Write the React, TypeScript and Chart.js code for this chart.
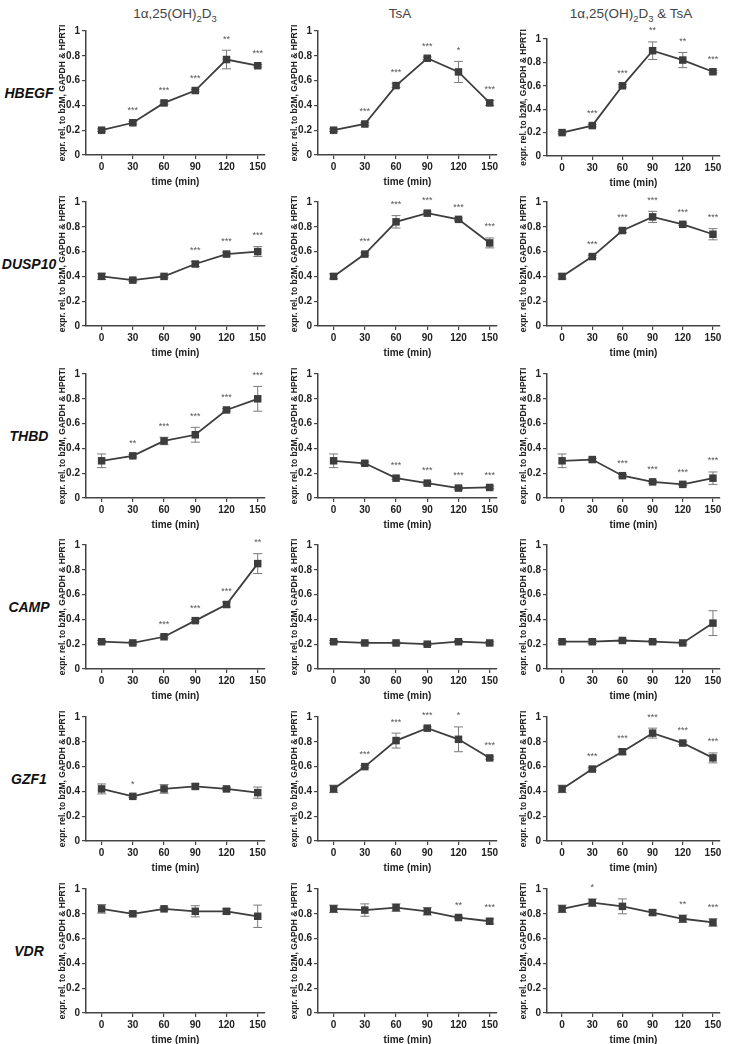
import React, { useEffect, useRef } from 'react';
import { Chart, registerables } from 'chart.js';
Chart.register(...registerables);

const TIMES = [0, 30, 60, 90, 120, 150];
const Y_TICKS = [0, 0.2, 0.4, 0.6, 0.8, 1];
const Y_TICK_LABELS = ['0', '0.2', '0.4', '0.6', '0.8', '1'];
const GENES = ['HBEGF', 'DUSP10', 'THBD', 'CAMP', 'GZF1', 'VDR'];
const Y_TITLE = 'expr. rel. to b2M, GAPDH & HPRTI';
const X_TITLE = 'time (min)';

// HBEGF
const HBEGF_D3 = [0.20, 0.26, 0.42, 0.52, 0.77, 0.72];
const HBEGF_D3_SD = [0.01, 0.01, 0.01, 0.01, 0.075, 0.01];
const HBEGF_D3_SIG = ['', '***', '***', '***', '**', '***'];
const HBEGF_TSA = [0.20, 0.25, 0.56, 0.78, 0.67, 0.42];
const HBEGF_TSA_SD = [0.01, 0.01, 0.015, 0.01, 0.085, 0.02];
const HBEGF_TSA_SIG = ['', '***', '***', '***', '*', '***'];
const HBEGF_BOTH = [0.20, 0.26, 0.60, 0.90, 0.82, 0.72];
const HBEGF_BOTH_SD = [0.01, 0.01, 0.01, 0.075, 0.065, 0.01];
const HBEGF_BOTH_SIG = ['', '***', '***', '**', '**', '***'];

// DUSP10
const DUSP10_D3 = [0.40, 0.37, 0.40, 0.50, 0.58, 0.60];
const DUSP10_D3_SD = [0.025, 0.01, 0.01, 0.02, 0.015, 0.04];
const DUSP10_D3_SIG = ['', '', '', '***', '***', '***'];
const DUSP10_TSA = [0.40, 0.58, 0.84, 0.91, 0.86, 0.67];
const DUSP10_TSA_SD = [0.02, 0.01, 0.05, 0.01, 0.01, 0.04];
const DUSP10_TSA_SIG = ['', '***', '***', '***', '***', '***'];
const DUSP10_BOTH = [0.40, 0.56, 0.77, 0.88, 0.82, 0.74];
const DUSP10_BOTH_SD = [0.02, 0.01, 0.015, 0.045, 0.01, 0.045];
const DUSP10_BOTH_SIG = ['', '***', '***', '***', '***', '***'];

// THBD
const THBD_D3 = [0.30, 0.34, 0.46, 0.51, 0.71, 0.80];
const THBD_D3_SD = [0.055, 0.01, 0.03, 0.06, 0.01, 0.10];
const THBD_D3_SIG = ['', '**', '***', '***', '***', '***'];
const THBD_TSA = [0.30, 0.28, 0.16, 0.12, 0.08, 0.085];
const THBD_TSA_SD = [0.055, 0.01, 0.01, 0.01, 0.01, 0.01];
const THBD_TSA_SIG = ['', '', '***', '***', '***', '***'];
const THBD_BOTH = [0.30, 0.31, 0.18, 0.13, 0.11, 0.16];
const THBD_BOTH_SD = [0.055, 0.01, 0.01, 0.01, 0.01, 0.05];
const THBD_BOTH_SIG = ['', '', '***', '***', '***', '***'];

// CAMP
const CAMP_D3 = [0.22, 0.21, 0.26, 0.39, 0.52, 0.85];
const CAMP_D3_SD = [0.01, 0.01, 0.01, 0.01, 0.02, 0.08];
const CAMP_D3_SIG = ['', '', '***', '***', '***', '**'];
const CAMP_TSA = [0.22, 0.21, 0.21, 0.20, 0.22, 0.21];
const CAMP_TSA_SD = [0.01, 0.01, 0.01, 0.01, 0.01, 0.01];
const CAMP_TSA_SIG = ['', '', '', '', '', ''];
const CAMP_BOTH = [0.22, 0.22, 0.23, 0.22, 0.21, 0.37];
const CAMP_BOTH_SD = [0.01, 0.015, 0.01, 0.01, 0.01, 0.10];
const CAMP_BOTH_SIG = ['', '', '', '', '', ''];

// GZF1
const GZF1_D3 = [0.42, 0.36, 0.42, 0.44, 0.42, 0.39];
const GZF1_D3_SD = [0.04, 0.01, 0.035, 0.02, 0.01, 0.045];
const GZF1_D3_SIG = ['', '*', '', '', '', ''];
const GZF1_TSA = [0.42, 0.60, 0.81, 0.91, 0.82, 0.67];
const GZF1_TSA_SD = [0.03, 0.01, 0.06, 0.01, 0.10, 0.01];
const GZF1_TSA_SIG = ['', '***', '***', '***', '*', '***'];
const GZF1_BOTH = [0.42, 0.58, 0.72, 0.87, 0.79, 0.67];
const GZF1_BOTH_SD = [0.03, 0.01, 0.02, 0.04, 0.01, 0.04];
const GZF1_BOTH_SIG = ['', '***', '***', '***', '***', '***'];

// VDR
const VDR_D3 = [0.84, 0.80, 0.84, 0.82, 0.82, 0.78];
const VDR_D3_SD = [0.035, 0.015, 0.01, 0.045, 0.02, 0.09];
const VDR_D3_SIG = ['', '', '', '', '', ''];
const VDR_TSA = [0.84, 0.83, 0.85, 0.82, 0.77, 0.74];
const VDR_TSA_SD = [0.03, 0.05, 0.03, 0.03, 0.01, 0.02];
const VDR_TSA_SIG = ['', '', '', '', '**', '***'];
const VDR_BOTH = [0.84, 0.89, 0.86, 0.81, 0.76, 0.73];
const VDR_BOTH_SD = [0.03, 0.03, 0.06, 0.02, 0.03, 0.03];
const VDR_BOTH_SIG = ['', '*', '', '', '**', '***'];

const PANELS = [
  [[HBEGF_D3, HBEGF_D3_SD, HBEGF_D3_SIG], [HBEGF_TSA, HBEGF_TSA_SD, HBEGF_TSA_SIG], [HBEGF_BOTH, HBEGF_BOTH_SD, HBEGF_BOTH_SIG]],
  [[DUSP10_D3, DUSP10_D3_SD, DUSP10_D3_SIG], [DUSP10_TSA, DUSP10_TSA_SD, DUSP10_TSA_SIG], [DUSP10_BOTH, DUSP10_BOTH_SD, DUSP10_BOTH_SIG]],
  [[THBD_D3, THBD_D3_SD, THBD_D3_SIG], [THBD_TSA, THBD_TSA_SD, THBD_TSA_SIG], [THBD_BOTH, THBD_BOTH_SD, THBD_BOTH_SIG]],
  [[CAMP_D3, CAMP_D3_SD, CAMP_D3_SIG], [CAMP_TSA, CAMP_TSA_SD, CAMP_TSA_SIG], [CAMP_BOTH, CAMP_BOTH_SD, CAMP_BOTH_SIG]],
  [[GZF1_D3, GZF1_D3_SD, GZF1_D3_SIG], [GZF1_TSA, GZF1_TSA_SD, GZF1_TSA_SIG], [GZF1_BOTH, GZF1_BOTH_SD, GZF1_BOTH_SIG]],
  [[VDR_D3, VDR_D3_SD, VDR_D3_SIG], [VDR_TSA, VDR_TSA_SD, VDR_TSA_SIG], [VDR_BOTH, VDR_BOTH_SD, VDR_BOTH_SIG]],
];

// layout
const FONT = "'Liberation Sans', Arial, Helvetica, sans-serif";
const COL_AXIS_X = [86, 318, 547];
const COL_PLOT_W = [179, 179, 173];
const COL_TITLE_X = [175, 400, 631];
const ROW_TOP = [31, 202, 374, 545, 717, 889];
const PLOT_H = 124;
const PAD_L = 4, Y_W = 28, PAD_R = 8, PAD_T = 18, X_H = 33, PAD_B = 2;
const X_MIN = -15, X_MAX = 157;

function panelGeom(r: number, c: number) {
  let top = ROW_TOP[r];
  let h = PLOT_H;
  if (r === 0 && c === 2) { top = 39; h = 117; }
  return { left: COL_AXIS_X[c], top, w: COL_PLOT_W[c], h };
}

const errPlugin = {
  id: 'errStars',
  beforeDatasetsDraw(chart: any) {
    const { ctx } = chart;
    const x = chart.scales.x, y = chart.scales.y;
    const ds = chart.data.datasets[0];
    ctx.save();
    ctx.strokeStyle = '#7a7a7a';
    ctx.lineWidth = 1;
    ds.data.forEach((p: any, i: number) => {
      const sd = ds.sd[i];
      const px = x.getPixelForValue(p.x);
      const yt = y.getPixelForValue(p.y + sd);
      const yb = y.getPixelForValue(p.y - sd);
      ctx.beginPath();
      ctx.moveTo(px, yt); ctx.lineTo(px, yb);
      ctx.moveTo(px - 4.5, yt); ctx.lineTo(px + 4.5, yt);
      ctx.moveTo(px - 4.5, yb); ctx.lineTo(px + 4.5, yb);
      ctx.stroke();
    });
    ctx.restore();
  },
  afterDatasetsDraw(chart: any) {
    const { ctx } = chart;
    const x = chart.scales.x, y = chart.scales.y;
    const ds = chart.data.datasets[0];
    ctx.save();
    ctx.fillStyle = '#555';
    ctx.font = `9px ${FONT}`;
    ctx.textAlign = 'center';
    ctx.textBaseline = 'middle';
    ds.data.forEach((p: any, i: number) => {
      const s = ds.sig[i];
      if (!s) return;
      const px = x.getPixelForValue(p.x);
      const yt = y.getPixelForValue(p.y + ds.sd[i]);
      ctx.fillText(s, px, yt - 11);
    });
    ctx.restore();
  },
};

function Panel({ r, c }: { r: number; c: number }) {
  const ref = useRef<HTMLCanvasElement>(null);
  const g = panelGeom(r, c);
  const cw = PAD_L + Y_W + g.w + PAD_R;
  const ch = PAD_T + g.h + X_H + PAD_B;
  useEffect(() => {
    const [mean, sd, sig] = PANELS[r][c];
    const tickFont = { family: FONT, size: 10, weight: 'bold' as const };
    const chart = new Chart(ref.current!, {
      type: 'line',
      data: {
        datasets: [
          {
            data: TIMES.map((t, i) => ({ x: t, y: mean[i] as number })),
            sd,
            sig,
            borderColor: '#3d3d3d',
            borderWidth: 1.8,
            pointStyle: 'rect',
            pointRadius: 5.3,
            pointBackgroundColor: '#3d3d3d',
            pointBorderWidth: 0,
            tension: 0,
            clip: false,
          } as any,
        ],
      },
      options: {
        responsive: false,
        animation: false,
        devicePixelRatio: 1,
        layout: { padding: { left: PAD_L, top: PAD_T, right: PAD_R, bottom: PAD_B } },
        plugins: { legend: { display: false }, tooltip: { enabled: false } },
        scales: {
          x: {
            type: 'linear',
            min: X_MIN,
            max: X_MAX,
            afterBuildTicks: (s: any) => { s.ticks = TIMES.map((v) => ({ value: v })); },
            afterFit: (s: any) => { s.height = X_H; },
            grid: { display: true, drawOnChartArea: false, drawTicks: true, tickLength: 4, color: '#444', lineWidth: 1.2 },
            border: { display: true, color: '#444', width: 1.5 },
            ticks: { font: tickFont, color: '#222', padding: 2, maxRotation: 0, autoSkip: false, callback: (v: any) => String(v) },
            title: { display: true, text: X_TITLE, font: tickFont, color: '#222', padding: { top: 0, bottom: 0 } },
          },
          y: {
            type: 'linear',
            min: 0,
            max: 1,
            afterBuildTicks: (s: any) => { s.ticks = Y_TICKS.map((v) => ({ value: v })); },
            afterFit: (s: any) => { s.width = Y_W; },
            grid: { display: true, drawOnChartArea: false, drawTicks: true, tickLength: 4, color: '#444', lineWidth: 1.2 },
            border: { display: true, color: '#444', width: 1.5 },
            ticks: { font: tickFont, color: '#222', padding: 2, callback: (_v: any, i: number) => Y_TICK_LABELS[i] },
            title: { display: true, text: Y_TITLE, font: { family: FONT, size: 8.5, weight: 'bold' }, color: '#222', padding: 0 },
          },
        },
      } as any,
      plugins: [errPlugin],
    });
    return () => chart.destroy();
  }, [r, c]);
  return (
    <canvas
      ref={ref}
      width={cw}
      height={ch}
      style={{ position: 'absolute', left: g.left - Y_W - PAD_L, top: g.top - PAD_T, width: cw, height: ch }}
    />
  );
}

const TITLE_D3 = (
  <>1α,25(OH)<sub style={{ fontSize: '0.7em' }}>2</sub>D<sub style={{ fontSize: '0.7em' }}>3</sub></>
);

export default function App() {
  const titleStyle = (x: number): React.CSSProperties => ({
    position: 'absolute', left: x - 120, width: 240, top: 4, textAlign: 'center',
    fontFamily: FONT, fontSize: 13.5, color: '#444', lineHeight: '20px', whiteSpace: 'nowrap',
  });
  return (
    <div style={{ position: 'absolute', left: 0, top: 0, width: 739, height: 1044, background: '#fff', overflow: 'hidden' }}>
      <div style={titleStyle(COL_TITLE_X[0])}>{TITLE_D3}</div>
      <div style={titleStyle(COL_TITLE_X[1])}>TsA</div>
      <div style={titleStyle(COL_TITLE_X[2])}>{TITLE_D3} &amp; TsA</div>
      {GENES.map((gname, r) => {
        const g = panelGeom(r, 0);
        return (
          <div key={gname} style={{
            position: 'absolute', left: 0, width: 58, top: g.top + g.h / 2 - 10, height: 20, lineHeight: '20px',
            textAlign: 'center', fontFamily: FONT, fontSize: 14, fontWeight: 'bold', fontStyle: 'italic', color: '#111',
          }}>{gname}</div>
        );
      })}
      {GENES.map((gname, r) => [0, 1, 2].map((c) => <Panel key={gname + c} r={r} c={c} />))}
    </div>
  );
}
